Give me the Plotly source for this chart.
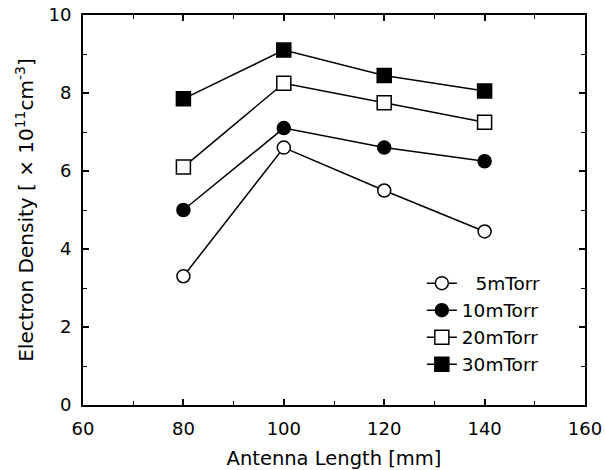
import plotly.graph_objects as go

antenna_length = [80, 100, 120, 140]
density_5mTorr = [3.3, 6.6, 5.5, 4.45]
density_10mTorr = [5.0, 7.1, 6.6, 6.25]
density_20mTorr = [6.1, 8.25, 7.75, 7.25]
density_30mTorr = [7.85, 9.1, 8.45, 8.05]
series_names = ["\u2007\u200a5mTorr", "10mTorr", "20mTorr", "30mTorr"]

FONT = "DejaVu Sans, Liberation Sans, Arial, sans-serif"

fig = go.Figure()
styles = [
    ("circle", 13, "white"),
    ("circle", 13, "black"),
    ("square", 14, "white"),
    ("square", 14, "black"),
]
for name, vals, (sym, sz, fill) in zip(series_names,
                                       [density_5mTorr, density_10mTorr, density_20mTorr, density_30mTorr],
                                       styles):
    fig.add_trace(go.Scatter(
        x=antenna_length, y=vals, name=name, mode="lines+markers",
        line=dict(color="black", width=1.5),
        marker=dict(symbol=sym, size=sz, color=fill,
                    line=dict(color="black", width=1.5)),
    ))

axis_common = dict(
    showgrid=False, zeroline=False, showline=True, linecolor="black", linewidth=2,
    mirror="ticks", ticks="inside", ticklen=6, tickwidth=1.5, tickcolor="black",
    tickfont=dict(family=FONT, size=18, color="black"),
    automargin=False,
)
fig.update_xaxes(range=[60, 160], dtick=20, tick0=60, ticklabelstandoff=6,
                 minor=dict(dtick=10, ticks="inside", ticklen=4, tickcolor="black", tickwidth=1),
                 title=dict(text="Antenna Length [mm]", font=dict(family=FONT, size=19.5, color="black"), standoff=14),
                 **axis_common)
fig.update_yaxes(range=[0, 10], dtick=2, tick0=0, ticklabelstandoff=6,
                 minor=dict(dtick=1, ticks="inside", ticklen=4, tickcolor="black", tickwidth=1),
                 title=dict(text="Electron Density [ \u00d7 10<sup>11</sup>cm<sup>-3</sup>]",
                            font=dict(family=FONT, size=20, color="black"), standoff=9),
                 **axis_common)

fig.update_layout(
    width=605, height=470,
    margin=dict(l=83, r=20, t=15, b=65),
    paper_bgcolor="white", plot_bgcolor="white",
    font=dict(family=FONT, color="black"),
    legend=dict(x=0.675, y=0.36, xanchor="left", yanchor="top",
                bgcolor="rgba(0,0,0,0)", borderwidth=0,
                font=dict(family=FONT, size=18.5, color="black"),
                itemwidth=30, tracegroupgap=0),
    showlegend=True,
)

fig.write_html("out.html",
               config={"displayModeBar": False},
               post_script="document.body.style.margin='0';document.body.style.overflow='hidden';")
